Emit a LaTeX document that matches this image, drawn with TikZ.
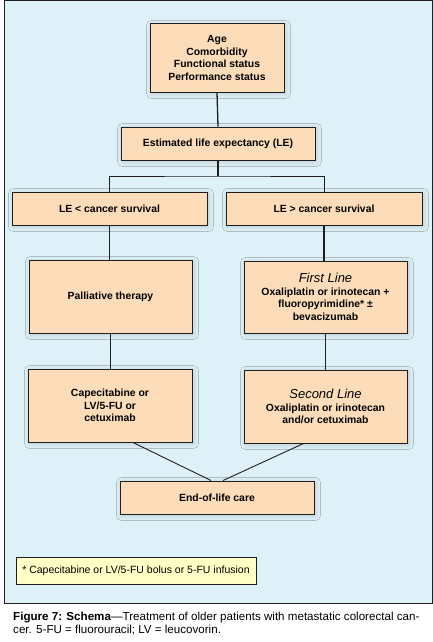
\documentclass[tikz,border=0pt]{standalone}
\usepackage{fontspec}
\setmainfont{Liberation Sans}
\usetikzlibrary{calc,shadows.blur}
\definecolor{bgblue}{HTML}{DFF1F8}
\definecolor{peach}{HTML}{FDDDB9}
\definecolor{paleyellow}{HTML}{FFFFC6}
\definecolor{framegray}{HTML}{1E1E1E}
\begin{document}
\begin{tikzpicture}[x=1pt,y=-1pt,
  box/.style={draw=framegray, line width=1pt, fill=peach, inner sep=0pt, align=center,
    font=\fontsize{10.4}{12.6}\selectfont\bfseries,
    blur shadow={shadow blur steps=6, shadow xshift=1.5pt, shadow yshift=-1.5pt, shadow opacity=18, shadow blur radius=5pt}},
  conn/.style={draw=framegray, line width=1.3pt},
  thin/.style={draw=framegray, line width=0.9pt}]
\useasboundingbox (0,0) rectangle (433,642);
\fill[white] (0,0) rectangle (433,642);
\draw[fill=bgblue, draw=framegray, line width=1pt] (4,1) rectangle (432,603);

\node[box, minimum width=134pt, minimum height=68pt] (top) at (217,58)
  {Age\\Comorbidity\\Functional status\\Performance status};
\node[box, minimum width=194pt, minimum height=33pt] (le) at (218,143.5)
  {Estimated life expectancy (LE)};
\node[box, minimum width=195pt, minimum height=33pt] (less) at (109.5,208.5)
  {LE < cancer survival};
\node[box, minimum width=196pt, minimum height=33pt] (great) at (324,208.5)
  {LE > cancer survival};
\node[box, minimum width=163pt, minimum height=73pt] (pall) at (110.5,296.5)
  {Palliative therapy};
\node[box, minimum width=163pt, minimum height=72pt] (first) at (325.5,297)
  {{\fontsize{13}{13}\selectfont\mdseries\itshape First Line}\\Oxaliplatin or irinotecan +\\fluoropyrimidine* ±\\bevacizumab};
\node[box, minimum width=164pt, minimum height=73pt] (cape) at (110,405.5)
  {Capecitabine or\\LV/5-FU or\\cetuximab};
\node[box, minimum width=163pt, minimum height=73pt, text depth=-4pt] (second) at (325.5,406.5)
  {{\fontsize{13}{13}\selectfont\mdseries\itshape Second Line}\\Oxaliplatin or irinotecan\\and/or cetuximab};
\node[box, minimum width=194pt, minimum height=33pt] (end) at (217,497.5)
  {End-of-life care};
\node[draw=framegray, line width=0.9pt, fill=paleyellow, minimum width=240pt, minimum height=27pt, inner sep=0pt,
  font=\fontsize{10.5}{12}\selectfont] (foot) at (136,570.5)
  {* Capecitabine or LV/5-FU bolus or 5-FU infusion};

\coordinate (j) at (218,176);
\draw[conn] (top.south) -- (le.north);
\draw[conn] (le.south) -- (j);
\draw[thin] (less.north) |- (j) -| (great.north);
\draw[conn] (less.south) -- (less.south |- pall.north);
\draw[conn] (pall.south) -- (pall.south |- cape.north);
\draw[conn] (great.south) -- (great.south |- first.north);
\draw[conn] (first.south) -- (first.south |- second.north);
\draw[thin] ($(cape.south)+(23,0)$) -- ($(end.north)+(-6,0)$);
\draw[thin] ($(second.south)+(-22,0)$) -- ($(end.north)+(6,0)$);

\node[anchor=north west, inner sep=0pt, align=left, font=\fontsize{11.6}{13}\selectfont] (cap) at (13,612)
  {\textbf{Figure 7: Schema}—Treatment of older patients with metastatic colorectal can-\\cer. 5-FU = fluorouracil; LV = leucovorin.};
\end{tikzpicture}
\end{document}
